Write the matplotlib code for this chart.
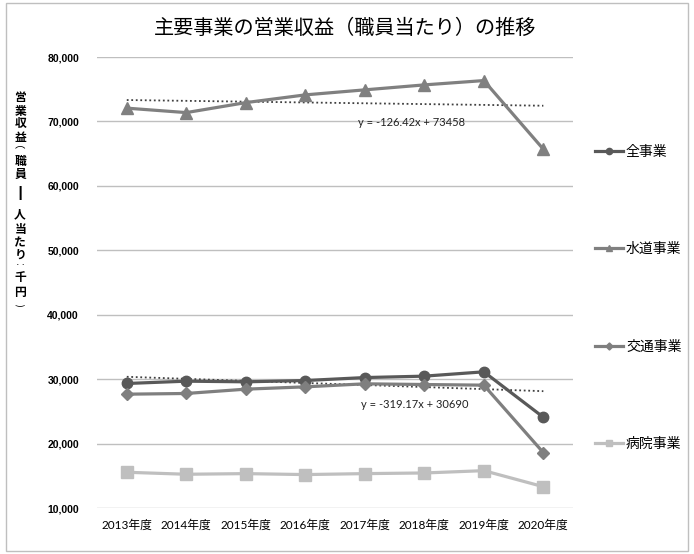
import numpy as np
import matplotlib
matplotlib.use('Agg')
import matplotlib.pyplot as plt
from matplotlib.patches import Rectangle

plt.rcParams['font.family'] = ['Lato', 'Noto Sans CJK JP', 'DejaVu Sans']

# data (thousand yen per employee)
years = ['2013年度', '2014年度', '2015年度', '2016年度',
         '2017年度', '2018年度', '2019年度', '2020年度']
all_biz = [29330, 29690, 29590, 29790, 30250, 30470, 31140, 24090]
water = [72070, 71380, 72930, 74130, 74910, 75680, 76350, 65700]
transport = [27670, 27780, 28450, 28810, 29280, 29170, 29070, 18600]
hospital = [15550, 15240, 15340, 15190, 15340, 15440, 15800, 13310]

series_names = ['全事業', '水道事業', '交通事業', '病院事業']
series_colors = ['#595959', '#808080', '#7f7f7f', '#bfbfbf']
series_markers = ['o', '^', 'D', 's']
marker_sizes = [7.5, 8, 6, 8]

# linear trend lines shown on the chart (x = 1..8)
trend_slope = [-126.42, -319.17]
trend_intercept = [73458, 30690]
trend_labels = ['y = -126.42x + 73458', 'y = -319.17x + 30690']

fig = plt.figure(figsize=(6.94, 5.54), dpi=100)
fig.patches.append(Rectangle((0.008, 0.006), 0.984, 0.988, transform=fig.transFigure,
                             fill=False, edgecolor='#bfbfbf', linewidth=1))

ax = fig.add_axes([0.1398, 0.083, 0.686, 0.814])
x = np.arange(len(years))

for vals, name, col, mk, ms in zip([all_biz, water, transport, hospital], series_names,
                                   series_colors, series_markers, marker_sizes):
    ax.plot(x, vals, color=col, marker=mk, markersize=ms, linewidth=2.3,
            label=name, zorder=3)

# trend lines
xt = x + 1
for m, b in zip(trend_slope, trend_intercept):
    ax.plot(x, m * xt + b, color='#404040', linestyle=(0, (1, 1.5)), linewidth=1.3, zorder=2)

ax.text(4.79, 69900, trend_labels[0], ha='center', va='center', fontsize=8, color='#222222')
ax.text(4.84, 26100, trend_labels[1], ha='center', va='center', fontsize=8, color='#222222')

ax.set_xlim(-0.5, 7.5)
ax.set_ylim(10000, 80000)
ax.set_yticks(np.arange(10000, 80001, 10000))
ax.set_yticklabels([f'{v:,}' for v in range(10000, 80001, 10000)], fontweight='bold',
                   fontsize=7.5, family=['Liberation Sans'])
ax.set_xticks(x)
ax.set_xticklabels(years, fontsize=8.5)
ax.tick_params(length=0, pad=13, axis='y')
ax.tick_params(length=0, pad=8, axis='x')
ax.grid(axis='y', color='#bfbfbf', linewidth=1)
ax.set_axisbelow(True)
for s in ax.spines.values():
    s.set_visible(False)

ax.legend(loc='upper left', bbox_to_anchor=(0.858, 0.738), bbox_transform=fig.transFigure,
          frameon=False, fontsize=10, labelspacing=6.05, handlelength=2.0,
          handletextpad=0.2, borderaxespad=0, borderpad=0, markerscale=0.6)

fig.text(0.497, 0.948, '主要事業の営業収益（職員当たり）の推移', ha='center', va='center',
         fontsize=14.5, family=['Noto Sans CJK JP'])

# vertical y-axis title, one character at a time (vertical-writing stand-ins for punctuation)
ylabel_chars = ['営', '業', '収', '益', '⌒', '職', '員', '丨', '人', '当', 'た', 'り', '‥', '千', '円', '‿']
ylabel_ypix = [98, 111, 124, 137, 151, 161, 174, 194, 215, 229, 243, 255, 266, 278, 292, 301]
ylabel_size = [8.5, 8.5, 8.5, 8.5, 7.5, 8.5, 8.5, 11, 8.5, 8.5, 8.5, 8.5, 8, 8.5, 8.5, 7.5]
for ch, yp, fs in zip(ylabel_chars, ylabel_ypix, ylabel_size):
    fig.text(0.029, 1 - yp / 554, ch, ha='center', va='center', fontsize=fs,
             fontweight='bold' if ch not in '⌒‥‿' else 'normal',
             family=['Noto Sans CJK JP', 'DejaVu Sans'])

fig.savefig('out.png', dpi=100)
